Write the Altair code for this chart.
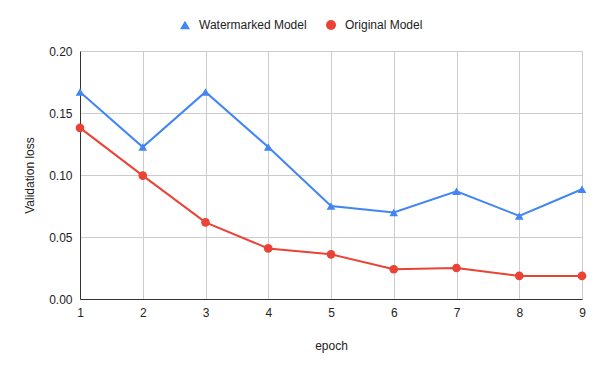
import altair as alt
import pandas as pd

epochs = [1, 2, 3, 4, 5, 6, 7, 8, 9]
watermarked = [0.167, 0.1225, 0.167, 0.1225, 0.075, 0.0698, 0.0868, 0.067, 0.0885]
original = [0.138, 0.0995, 0.0618, 0.0408, 0.036, 0.024, 0.025, 0.0186, 0.0186]
series_names = ["Watermarked Model", "Original Model"]
colors = ["#4285F4", "#EA4335"]
shapes = ["triangle-up", "circle"]

rows = []
for e, w, o in zip(epochs, watermarked, original):
    rows.append({"epoch": e, "loss": w, "series": series_names[0]})
    rows.append({"epoch": e, "loss": o, "series": series_names[1]})
df = pd.DataFrame(rows)

font = "Liberation Sans"

x = alt.X("epoch:Q", title="epoch",
          scale=alt.Scale(domain=[1, 9], nice=False, zero=False),
          axis=alt.Axis(values=epochs, format="d", tickCount=9, titlePadding=22,
                        labelFlush=False))
y = alt.Y("loss:Q", title="Validation loss",
          scale=alt.Scale(domain=[0, 0.2], nice=False),
          axis=alt.Axis(values=[0, 0.05, 0.1, 0.15, 0.2], format=".2f", titlePadding=12))
color = alt.Color("series:N", scale=alt.Scale(domain=series_names, range=colors),
                  legend=alt.Legend(title=None, orient="none", direction="horizontal",
                                    legendX=99, legendY=-32, symbolSize=100,
                                    labelFontSize=12, labelFont=font, labelColor="#222222",
                                    labelOffset=8, columnPadding=18, symbolStrokeWidth=0))
shape = alt.Shape("series:N", scale=alt.Scale(domain=series_names, range=shapes),
                  legend=alt.Legend(title=None, orient="none", direction="horizontal",
                                    legendX=99, legendY=-32))

base = alt.Chart(df)
lines = base.mark_line(strokeWidth=2).encode(x=x, y=y, color=color, detail="series:N")
points = base.mark_point(filled=True, size=75, opacity=1).encode(x=x, y=y, color=color, shape=shape)

chart = alt.layer(lines, points).properties(
    width=502, height=248,
    autosize=alt.AutoSizeParams(type="none"),
    padding={"left": 72, "top": 43, "right": 10, "bottom": 64},
).configure_view(stroke=None).configure_axis(
    gridColor="#cccccc", gridWidth=1, domainColor="#333333", domainWidth=1,
    ticks=False, labelFont=font, labelFontSize=12, labelColor="#222222",
    titleFont=font, titleFontSize=12, titleFontWeight="normal", titleColor="#222222",
    labelPadding=8,
).configure_axisY(domain=True).configure_axisX(domain=True)

chart.save("out.html", embed_options={"renderer": "svg", "actions": False})
